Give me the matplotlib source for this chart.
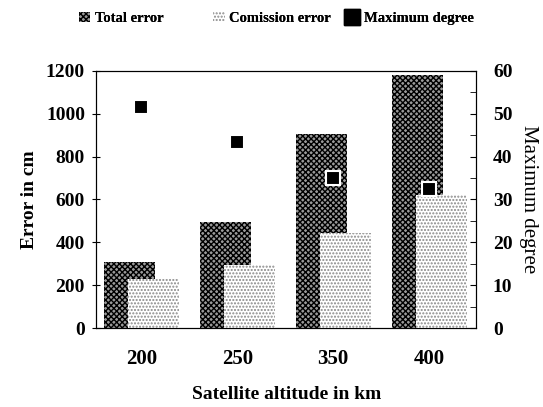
import matplotlib.pyplot as plt
import numpy as np
from matplotlib.patches import Patch
from matplotlib.lines import Line2D

plt.rcParams['font.family'] = ['Liberation Serif', 'DejaVu Serif']
plt.rcParams['hatch.linewidth'] = 1.0

altitudes = ['200', '250', '350', '400']
total_error = [308, 497, 905, 1180]
comission_error = [230, 295, 445, 620]
max_degree = [51.5, 43.5, 35, 32.5]

x = np.arange(len(altitudes))
w = 0.53

fig = plt.figure(figsize=(5.43, 4.07), dpi=100)
ax = fig.add_axes([0.177, 0.194, 0.70, 0.632])

ax.bar(x - 0.12, total_error, w, facecolor='#9a9a9a', edgecolor='black',
       hatch='xxxxxx', linewidth=0, zorder=2)
ax.bar(x + 0.125, comission_error, w, facecolor='white', edgecolor='#888888',
       hatch='.....', linewidth=0, zorder=3)

ax.set_xlim(-0.47, 3.49)
ax.set_ylim(0, 1200)
ax.set_yticks(range(0, 1201, 200))
ax.set_xticks(x)
ax.set_xticklabels(altitudes)
ax.tick_params(axis='x', length=0, pad=15, labelsize=15)
ax.tick_params(axis='y', direction='inout', length=6, pad=5, labelsize=14)
for t in ax.get_xticklabels() + ax.get_yticklabels():
    t.set_fontweight('bold')
ax.set_ylabel('Error in cm', fontsize=14, fontweight='bold', labelpad=6)
ax.set_xlabel('Satellite altitude in km', fontsize=14, fontweight='bold', labelpad=12)

ax2 = ax.twinx()
ax2.set_ylim(0, 60)
ax2.set_yticks(range(0, 61, 10))
ax2.set_yticks(range(5, 60, 10), minor=True)
ax2.tick_params(axis='y', which='both', direction='in', length=4, pad=12, labelsize=14)
for t in ax2.get_yticklabels():
    t.set_fontweight('bold')
ax2.plot(x, max_degree, 's', color='black', markersize=10,
         markeredgecolor='white', markeredgewidth=1.5, zorder=5)
ax2.set_ylabel('Maximum degree', fontsize=15, rotation=-90, labelpad=18)

entries = [
    (Patch(facecolor='#9a9a9a', edgecolor='black', hatch='xxxxxx', linewidth=0),
     'Total error', 0.145, 0.8),
    (Patch(facecolor='white', edgecolor='#888888', hatch='.....', linewidth=0),
     'Comission error', 0.393, 0.8),
    (Line2D([], [], marker='s', color='black', linestyle='none', markersize=11),
     'Maximum degree', 0.635, 1.0),
]
for h, lab, xpos, hl in entries:
    fig.add_artist(fig.legend([h], [lab], loc='center left',
                              bbox_to_anchor=(xpos, 0.955), frameon=False,
                              handlelength=hl, handletextpad=0.3,
                              borderaxespad=0, borderpad=0,
                              prop={'size': 10.5, 'weight': 'bold'}))

fig.savefig('out.png', dpi=100)
